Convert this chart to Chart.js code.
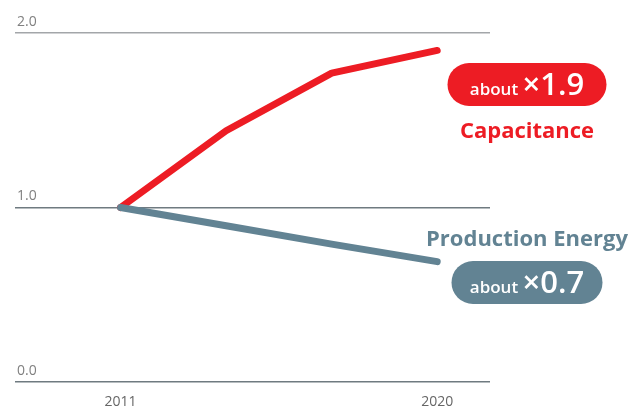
<!DOCTYPE html>
<html>
<head>
<meta charset="utf-8">
<script src="https://cdn.jsdelivr.net/npm/chart.js@4"></script>
<style>
  html, body { margin: 0; padding: 0; background: #fff; }
  #wrap { width: 633px; height: 408px; }
</style>
</head>
<body>
<div id="wrap"><canvas id="chart" width="633" height="408"></canvas></div>
<script>
// data (index, 2011 = 1.0)
const years       = [2011, 2014, 2017, 2020];
const capacitance = [1.0, 1.44, 1.77, 1.90];
const prodEnergy  = [1.0, 0.895, 0.79, 0.69];
const xTicks      = [2011, 2020];
const yTicks      = [0, 1, 2];

const RED  = '#ed1c24';
const BLUE = '#628393';
const FONT = '"Open Sans", "Noto Sans", sans-serif';

function pill(ctx, x, y, w, h, color) {
  const r = h / 2;
  ctx.beginPath();
  ctx.moveTo(x + r, y);
  ctx.lineTo(x + w - r, y);
  ctx.arc(x + w - r, y + r, r, -Math.PI / 2, Math.PI / 2);
  ctx.lineTo(x + r, y + h);
  ctx.arc(x + r, y + r, r, Math.PI / 2, Math.PI * 1.5);
  ctx.closePath();
  ctx.fillStyle = color;
  ctx.fill();
}

function badge(ctx, cx, top, w, h, color, factor) {
  pill(ctx, cx - w / 2, top, w, h, color);
  ctx.fillStyle = '#fff';
  ctx.textBaseline = 'alphabetic';
  ctx.textAlign = 'left';
  const small = '600 17px ' + FONT, big = '600 31px ' + FONT;
  ctx.font = small;
  const w1 = ctx.measureText('about ').width;
  ctx.font = big;
  const w2 = ctx.measureText(factor).width;
  let x = cx - (w1 + w2) / 2;
  const base = top + h - 11;
  ctx.font = small;
  ctx.fillText('about ', x, base);
  ctx.font = big;
  ctx.fillText(factor, x + w1, base);
}

const labelsPlugin = {
  id: 'labels',
  afterDatasetsDraw(chart) {
    const ctx = chart.ctx;
    ctx.save();
    badge(ctx, 527, 63, 159, 43, RED, '×1.9');
    ctx.font = 'bold 22px ' + FONT;
    ctx.fillStyle = RED;
    ctx.textAlign = 'center';
    ctx.textBaseline = 'middle';
    ctx.fillText('Capacitance', 527, 132);
    ctx.fillStyle = BLUE;
    ctx.fillText('Production Energy', 527, 240);
    badge(ctx, 527, 261, 151, 43, BLUE, '×0.7');
    ctx.restore();
  }
};

new Chart(document.getElementById('chart'), {
  type: 'line',
  data: {
    datasets: [
      { label: 'Production Energy', data: years.map((y, i) => ({ x: y, y: prodEnergy[i] })),
        borderColor: BLUE, borderWidth: 7, pointRadius: 0, borderCapStyle: 'round', borderJoinStyle: 'round', tension: 0 },
      { label: 'Capacitance', data: years.map((y, i) => ({ x: y, y: capacitance[i] })),
        borderColor: RED, borderWidth: 7, pointRadius: 0, borderCapStyle: 'round', borderJoinStyle: 'round', tension: 0 }
    ]
  },
  options: {
    responsive: false,
    animation: false,
    layout: { padding: { left: 15, right: 143, top: 33, bottom: 0 } },
    plugins: { legend: { display: false }, tooltip: { enabled: false } },
    scales: {
      x: {
        type: 'linear', min: 2008, max: 2021.5,
        afterBuildTicks: s => { s.ticks = xTicks.map(v => ({ value: v })); },
        afterFit: s => { s.height = 26; },
        grid: { display: false }, border: { display: false },
        ticks: { color: '#666', font: { family: FONT, size: 14 }, padding: 4, maxRotation: 0, callback: v => String(v) }
      },
      y: {
        min: 0, max: 2,
        afterBuildTicks: s => { s.ticks = yTicks.map(v => ({ value: v })); },
        afterFit: s => { s.width = 0; },
        border: { display: false },
        grid: { color: c => c.tick && c.tick.value === 2 ? '#a3a6a9' : '#6f7a80', lineWidth: 1.5, drawTicks: false },
        ticks: { mirror: true, padding: 2, labelOffset: -11, color: '#808080', font: { family: FONT, size: 14 }, callback: v => v.toFixed(1) }
      }
    }
  },
  plugins: [labelsPlugin]
});
</script>
</body>
</html>
